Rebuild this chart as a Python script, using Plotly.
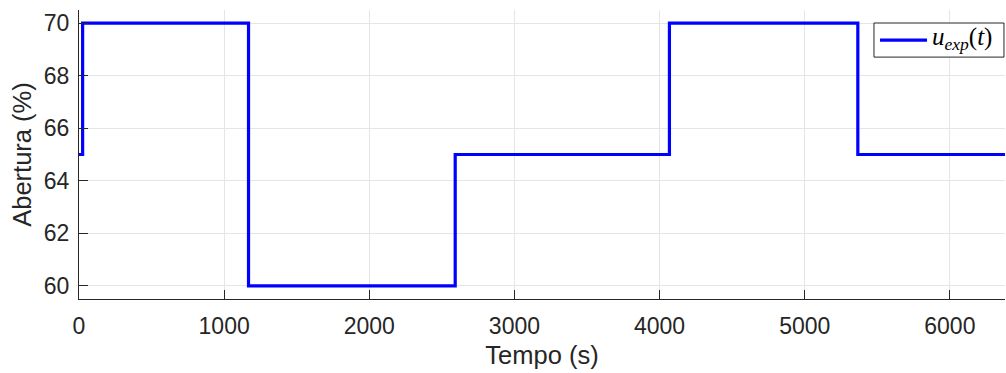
import plotly.graph_objects as go

# Step changes of the valve opening (time in s, opening in %)
step_times = [0, 25, 1168, 2592, 4068, 5366, 6380]
step_levels = [65, 70, 60, 65, 70, 65, 65]

x_ticks = [0, 1000, 2000, 3000, 4000, 5000, 6000]
y_ticks = [60, 62, 64, 66, 68, 70]

series_label = "<i>u</i><sub><i>exp</i></sub>(<i>t</i>)"

SANS = "Liberation Sans, Arial"
SERIF = "Liberation Serif, Times New Roman"
INK = "#262626"
BLUE = "#0000ff"

fig = go.Figure()
fig.add_trace(go.Scatter(
    x=step_times, y=step_levels,
    mode="lines", line=dict(color=BLUE, width=3.2, shape="hv"),
    name=series_label, showlegend=False,
))

axis_common = dict(
    showgrid=True, gridcolor="#e5e5e5", gridwidth=1,
    showline=True, linecolor=INK, linewidth=1,
    ticks="inside", ticklen=9, tickcolor=INK,
    zeroline=False, mirror=False,
    tickfont=dict(family=SANS, size=23, color=INK),
)

# Legend box drawn in paper coordinates (top-right corner of the axes)
leg_x0, leg_x1 = 0.8585, 0.9989
leg_y0, leg_y1 = 0.837, 0.955
leg_mid = (leg_y0 + leg_y1) / 2

fig.update_layout(
    width=1006, height=373,
    margin=dict(l=79, r=1, t=10, b=74),
    plot_bgcolor="white", paper_bgcolor="white",
    xaxis=dict(range=[0, 6380], tickvals=x_ticks, ticklabelstandoff=6,
               title=dict(text="Tempo (s)", standoff=8,
                          font=dict(family=SANS, size=25.5, color=INK)),
               **axis_common),
    yaxis=dict(range=[59.5, 70.5], tickvals=y_ticks, ticklabelstandoff=4,
               title=dict(text="Abertura (%)", standoff=4,
                          font=dict(family=SANS, size=25.5, color=INK)),
               **axis_common),
    showlegend=False,
    shapes=[
        dict(type="rect", xref="paper", yref="paper",
             x0=leg_x0, x1=leg_x1, y0=leg_y0, y1=leg_y1,
             line=dict(color=INK, width=1), fillcolor="white", layer="above"),
        dict(type="line", xref="paper", yref="paper",
             x0=0.8650, x1=0.9158, y0=leg_mid, y1=leg_mid,
             line=dict(color=BLUE, width=3.2), layer="above"),
    ],
    annotations=[
        dict(text=series_label, xref="paper", yref="paper",
             x=0.9185, y=leg_mid + 0.005, xanchor="left", yanchor="middle",
             showarrow=False,
             font=dict(family=SERIF, size=25, color="#000000")),
    ],
)

fig.write_html("out.html")
